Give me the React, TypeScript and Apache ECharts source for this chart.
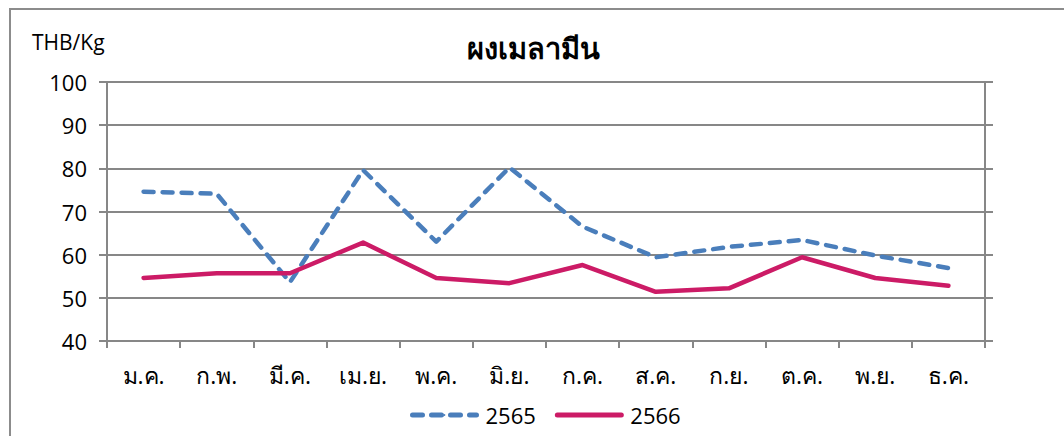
import React, { useEffect, useRef } from "react";
import * as echarts from "echarts";

const months = ["ม.ค.", "ก.พ.", "มี.ค.", "เม.ย.", "พ.ค.", "มิ.ย.", "ก.ค.", "ส.ค.", "ก.ย.", "ต.ค.", "พ.ย.", "ธ.ค."];
const values2565 = [74.6, 74.1, 53.6, 79.6, 63.0, 80.2, 66.5, 59.4, 61.8, 63.4, 59.8, 56.9];
const values2566 = [54.6, 55.7, 55.7, 62.8, 54.6, 53.4, 57.6, 51.4, 52.2, 59.4, 54.6, 52.8];
const seriesNames = ["2565", "2566"];
const titleText = "ผงเมลามีน";
const unitText = "THB/Kg";
const yMin = 40;
const yMax = 100;
const yStep = 10;

const FONT = "'Open Sans', 'Noto Sans', sans-serif";
const GRID_COLOR = "#878787";

export default function App() {
  const ref = useRef<HTMLDivElement>(null);
  useEffect(() => {
    document.body.style.margin = "0";
    if (!ref.current) return;
    const chart = echarts.init(ref.current, undefined, { renderer: "svg" });
    chart.setOption({
      animation: false,
      backgroundColor: "#ffffff",
      textStyle: { fontFamily: FONT, color: "#000" },
      title: {
        text: titleText,
        left: 528,
        top: 28,
        textAlign: "center",
        textStyle: { fontSize: 29, fontWeight: "bold", color: "#000", fontFamily: FONT },
      },
      graphic: [
        {
          type: "rect",
          shape: { x: 10, y: 9, width: 1200, height: 600 },
          style: { fill: "none", stroke: "#8c8c8c", lineWidth: 2 },
          silent: true,
        },
        {
          type: "text",
          left: 32,
          top: 31,
          style: { text: unitText, fontSize: 21, fill: "#000", fontFamily: FONT },
        },
      ],
      legend: {
        data: seriesNames,
        bottom: 5,
        left: 405,
        itemWidth: 64,
        itemHeight: 2,
        itemGap: 19,
        lineStyle: { width: 5, cap: "round" },
        textStyle: { fontSize: 22, color: "#000", fontFamily: FONT, padding: [0, 0, 0, 4] },
      },
      grid: { left: 107, right: 79, top: 82, bottom: 95, containLabel: false },
      xAxis: {
        type: "category",
        data: months,
        boundaryGap: true,
        axisLine: { show: true, lineStyle: { color: GRID_COLOR, width: 2 } },
        axisTick: { show: true, alignWithLabel: false, length: 7, lineStyle: { color: GRID_COLOR, width: 2 } },
        axisLabel: { fontSize: 23, color: "#000", margin: 22, fontFamily: FONT },
        splitLine: { show: false },
      },
      yAxis: [
        {
          type: "value",
          min: yMin,
          max: yMax,
          interval: yStep,
          axisLine: { show: true, lineStyle: { color: GRID_COLOR, width: 2 } },
          axisTick: { show: true, length: 8, lineStyle: { color: GRID_COLOR, width: 2 } },
          axisLabel: { fontSize: 22, color: "#000", margin: 20, fontFamily: FONT },
          splitLine: { show: true, lineStyle: { color: GRID_COLOR, width: 2 } },
        },
        {
          type: "value",
          position: "right",
          min: yMin,
          max: yMax,
          interval: yStep,
          axisLine: { show: true, lineStyle: { color: GRID_COLOR, width: 2 } },
          axisTick: { show: true, length: 8, lineStyle: { color: GRID_COLOR, width: 2 } },
          axisLabel: { show: false },
          splitLine: { show: false },
        },
      ],
      series: [
        {
          name: seriesNames[0],
          type: "line",
          data: values2565,
          symbol: "none",
          color: "#4a7ebb",
          lineStyle: { color: "#4a7ebb", width: 4.5, type: [10, 9], cap: "round", join: "round" },
          z: 3,
        },
        {
          name: seriesNames[1],
          type: "line",
          data: values2566,
          symbol: "none",
          color: "#cc1b66",
          lineStyle: { color: "#cc1b66", width: 4.5, cap: "round", join: "round" },
          z: 4,
        },
      ],
    });
    return () => chart.dispose();
  }, []);
  return <div ref={ref} style={{ width: 1064, height: 436 }} />;
}
